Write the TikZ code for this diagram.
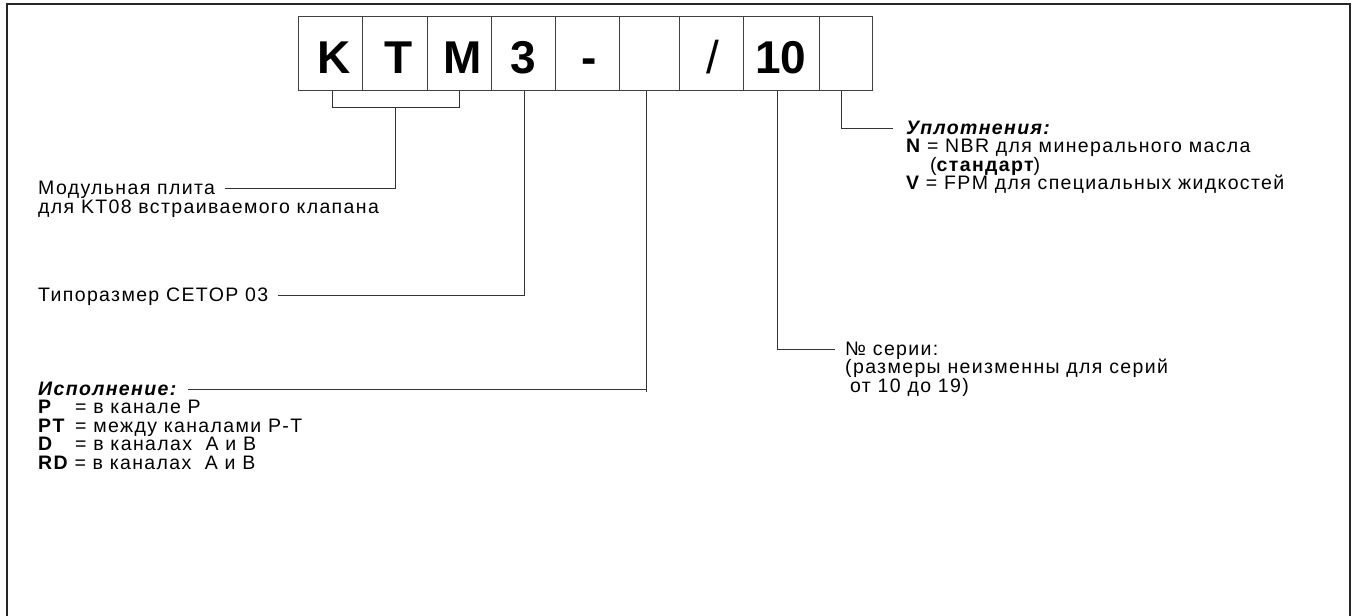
\documentclass[tikz,border=0pt]{standalone}
\usepackage{fontspec}
\setmainfont{Liberation Sans}
\newfontfamily\lblfont{Liberation Sans}[LetterSpace=7]
\usetikzlibrary{calc}
\begin{document}
\begin{tikzpicture}[x=1pt,y=-1pt,
  cell/.style={draw=black!75, line width=1pt, inner sep=0pt, minimum height=74pt,
    text height=40pt, text depth=0pt, font=\fontsize{46}{46}\selectfont\bfseries},
  lbl/.style={inner sep=0pt, anchor=base west, font=\fontsize{19.5}{18.5}\selectfont\lblfont},
  conn/.style={draw=black!80, line width=1pt},
  frame/.style={draw=black!85, line width=1.6pt}]
\useasboundingbox (0,0) rectangle (1353,616);
\draw[frame] (7,616) -- (7,4) -- (1350,4) -- (1350,616);
% code boxes
\node[cell, minimum width=64pt] (bK) at (330,53) {\kern9pt K};
\node[cell, minimum width=65pt] (bT) at (394.5,53) {\kern9pt T};
\node[cell, minimum width=64pt] (bM) at (459,53) {\kern8pt M};
\node[cell, minimum width=64pt] (b3) at (523,53) {3};
\node[cell, minimum width=64pt] (bD) at (587,53) {\kern5pt -};
\node[cell, minimum width=60pt] (b6) at (649,53) {};
\node[cell, minimum width=64pt] (bS) at (711,53) {\kern4pt\mdseries /};
\node[cell, minimum width=76pt] (b10) at (781,53) {10};
\node[cell, minimum width=53pt] (b9) at (845.5,53) {};
% labels
\node[lbl] (mod1) at (38,194) {Модульная плита};
\node[lbl] (mod2) at (38,213) {для KT08 встраиваемого клапана};
\node[lbl] (typ) at (38,301) {Типоразмер CETOP 03};
\node[lbl] (isp) at (38,395) {\bfseries\itshape Исполнение:};
\node[lbl] (iP) at (38,413.5) {\makebox[37pt][l]{\bfseries P}= в канале P};
\node[lbl] (iPT) at (38,432) {\makebox[37pt][l]{\bfseries PT}= между каналами P-T};
\node[lbl] (iD) at (38,450.5) {\makebox[37pt][l]{\bfseries D}= в каналах~ A и B};
\node[lbl] (iRD) at (38,469) {{\bfseries RD} = в каналах~ A и B};
\node[lbl] (ser) at (845,355) {№ серии:};
\node[lbl] (ser2) at (845,373.5) {(размеры неизменны для серий};
\node[lbl] (ser3) at (845,392) {\hspace{5pt}от 10 до 19)};
\node[lbl] (upl) at (906,134) {\bfseries\itshape Уплотнения:};
\node[lbl] (uN) at (906,152.5) {{\bfseries N} = NBR для минерального масла};
\node[lbl] (uS) at (930,171) {({\bfseries стандарт})};
\node[lbl] (uV) at (906,189.5) {{\bfseries V} = FPM для специальных жидкостей};
% connectors
\coordinate (brL) at ([xshift=2pt,yshift=-17pt]bK.south);
\coordinate (brR) at (brL -| bM.south);
\draw[conn] ([xshift=2pt]bK.south) -- (brL) -- (brR) -- (bM.south);
\coordinate (brM) at ($(brL)!0.5!(brR)$);
\draw[conn] (brM) |- ([shift={(10pt,6pt)}]mod1.base east);
\draw[conn] ([xshift=1pt]b3.south) |- ([shift={(10pt,6pt)}]typ.base east);
\coordinate (ispL) at ([shift={(11pt,6pt)}]isp.base east);
\coordinate (b6c) at ([xshift=-3pt]b6.south);
\draw[conn] (ispL) -- (ispL -| b6c);
\draw[conn] (b6c) -- ([yshift=-3pt]ispL -| b6c);
\draw[conn] ([xshift=-4pt]b10.south) |- ([shift={(-10pt,6pt)}]ser.base west);
\draw[conn] ([xshift=-4pt]b9.south) |- ([shift={(-13pt,6pt)}]upl.base west);
\end{tikzpicture}
\end{document}
